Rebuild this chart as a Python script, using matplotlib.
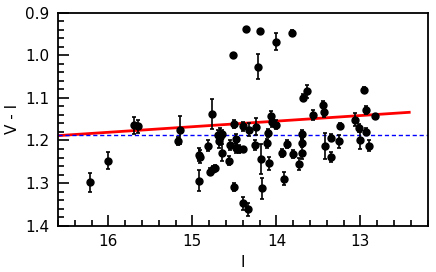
import matplotlib
matplotlib.use("Agg")
from matplotlib import pyplot as plt
from matplotlib.ticker import MultipleLocator
import numpy as np

# I magnitude, V-I colour and error
mag_I = [16.22, 16.01, 15.70, 15.65, 15.15, 15.17, 14.92, 14.91, 14.92, 14.81,
         14.79, 14.75, 14.73, 14.77, 14.70, 14.67, 14.65, 14.68, 14.65, 14.56,
         14.55, 14.50, 14.48, 14.48, 14.45, 14.40, 14.50, 14.40, 14.34, 14.40,
         14.33, 14.26, 14.24, 14.18, 14.17, 14.11, 14.09, 14.10, 14.06, 14.05,
         14.00, 13.94, 13.87, 13.91, 13.80, 13.73, 13.70, 13.70, 13.70, 13.69,
         13.64, 13.56, 13.45, 13.43, 13.42, 13.35, 13.35, 13.24, 13.25, 13.07,
         13.02, 13.01, 12.94, 12.96, 12.93, 12.90, 12.83, 14.36, 14.20, 14.01,
         13.82, 14.52, 14.22]
color_VI = [1.298, 1.248, 1.164, 1.167, 1.175, 1.201, 1.233, 1.238, 1.294, 1.212,
            1.273, 1.267, 1.264, 1.137, 1.187, 1.191, 1.186, 1.202, 1.229, 1.247,
            1.211, 1.161, 1.196, 1.218, 1.220, 1.220, 1.309, 1.347, 1.361, 1.167,
            1.175, 1.211, 1.168, 1.243, 1.312, 1.207, 1.254, 1.182, 1.142, 1.156,
            1.163, 1.229, 1.208, 1.290, 1.232, 1.255, 1.186, 1.206, 1.229, 1.100,
            1.085, 1.141, 1.116, 1.133, 1.213, 1.239, 1.194, 1.166, 1.202, 1.151,
            1.171, 1.200, 1.129, 1.081, 1.179, 1.212, 1.142, 0.938, 0.944, 0.968,
            0.948, 1.000, 1.027]
err_VI = [0.022, 0.020, 0.020, 0.015, 0.033, 0.010, 0.015, 0.015, 0.025, 0.012,
          0.008, 0.006, 0.006, 0.035, 0.012, 0.020, 0.010, 0.015, 0.020, 0.010,
          0.012, 0.010, 0.012, 0.012, 0.010, 0.005, 0.010, 0.015, 0.015, 0.010,
          0.015, 0.012, 0.020, 0.035, 0.025, 0.010, 0.015, 0.010, 0.012, 0.012,
          0.010, 0.010, 0.010, 0.015, 0.010, 0.015, 0.010, 0.010, 0.015, 0.008,
          0.015, 0.012, 0.008, 0.012, 0.030, 0.012, 0.008, 0.008, 0.015, 0.015,
          0.010, 0.020, 0.010, 0.006, 0.008, 0.012, 0.005, 0.004, 0.004, 0.020,
          0.006, 0.006, 0.030]

# linear fit endpoints and mean colour
fit_I = [16.7, 12.42]
fit_VI = [1.190, 1.134]
mean_VI = 1.187

fig = plt.figure(figsize=(4.36, 2.72), dpi=100)
ax = fig.add_axes([0.133, 0.170, 0.848, 0.784])

ax.errorbar(mag_I, color_VI, yerr=err_VI, fmt='o', color='black', ms=5,
            elinewidth=1.2, capsize=1.5, capthick=1.2, zorder=3)
ax.plot(fit_I, fit_VI, color='red', linewidth=2, zorder=2)
ax.axhline(mean_VI, color='#0000ff', linestyle='--', linewidth=1.0, dashes=(3, 2), zorder=2)

ax.set_xlim(16.6, 12.2)
ax.set_ylim(1.4, 0.9)
ax.xaxis.set_major_locator(MultipleLocator(1))
ax.xaxis.set_minor_locator(MultipleLocator(0.2))
ax.yaxis.set_major_locator(MultipleLocator(0.1))
ax.yaxis.set_minor_locator(MultipleLocator(0.02))
ax.yaxis.set_major_formatter(matplotlib.ticker.FormatStrFormatter('%.1f'))
ax.tick_params(which='both', direction='in', top=False, right=False,
               labelsize=11, width=1.2, pad=6)
ax.tick_params(which='major', length=8)
ax.tick_params(which='minor', length=4)
for s in ax.spines.values():
    s.set_linewidth(1.3)

ax.set_xlabel("I", fontsize=11)
ax.set_ylabel("V - I", fontsize=11)

fig.savefig("out.png", dpi=100)
